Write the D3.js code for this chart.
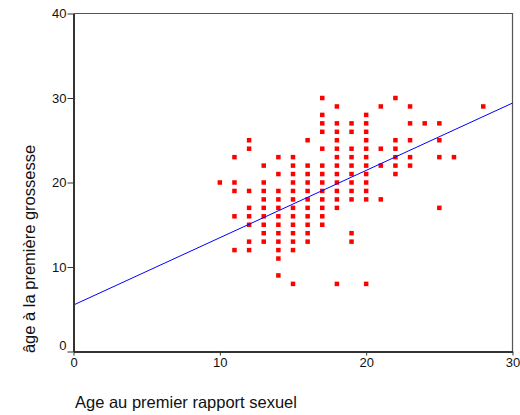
<!DOCTYPE html>
<html>
<head>
<meta charset="utf-8">
<script src="https://cdn.jsdelivr.net/npm/d3@7"></script>
<style>
  body { margin: 0; background: #fff; }
  svg { display: block; font-family: "Liberation Sans", Arial, sans-serif; }
</style>
</head>
<body>
<svg id="chart"></svg>
<script>
// age at first intercourse -> list of ages at first pregnancy observed
const firstSexAges = [10, 11, 12, 13, 14, 15, 16, 17, 18, 19, 20, 21, 22, 23, 24, 25, 26, 28];
const firstPregnancyAges = [
  [20],
  [23, 20, 19, 16, 12],
  [25, 24, 19, 17, 16, 15, 13, 12],
  [22, 20, 19, 18, 17, 16, 15, 14, 13],
  [23, 21, 19, 18, 17, 16, 15, 14, 13, 12, 11, 9],
  [23, 22, 21, 20, 19, 18, 17, 16, 15, 14, 13, 12, 8],
  [25, 22, 21, 20, 19, 18, 17, 16, 15, 14, 13],
  [30, 28, 27, 26, 24, 22, 21, 20, 19, 18, 17, 16, 15],
  [29, 27, 26, 25, 24, 23, 22, 21, 20, 19, 18, 17, 8],
  [27, 26, 24, 23, 22, 21, 20, 19, 18, 14, 13],
  [28, 27, 26, 25, 24, 23, 22, 21, 20, 19, 18, 8],
  [29, 24, 22, 18],
  [30, 25, 24, 23, 22, 21],
  [29, 27, 25, 23, 22],
  [27],
  [27, 25, 23, 17],
  [23],
  [29]
];
// fitted line: value at x = 0 and at x = 30
const fitX = [0, 30];
const fitY = [5.5, 29.4];
const xTicks = [0, 10, 20, 30];
const yTicks = [0, 10, 20, 30, 40];

const width = 520;
const height = 415;
const margin = { top: 13.5, right: 7.5, bottom: 63.5, left: 73.5 };

const svg = d3.select("#chart")
  .attr("width", width)
  .attr("height", height);

const innerWidth = width - margin.left - margin.right;
const innerHeight = height - margin.top - margin.bottom;

const x = d3.scaleLinear().domain([0, 30]).range([0, innerWidth]);
const y = d3.scaleLinear().domain([0, 40]).range([innerHeight, 0]);

const g = svg.append("g")
  .attr("transform", `translate(${margin.left},${margin.top})`);

// top and right frame
g.append("path")
  .attr("d", `M0,0H${innerWidth}V${innerHeight}`)
  .attr("fill", "none")
  .attr("stroke", "#555")
  .attr("stroke-width", 1.2);

const points = firstSexAges.flatMap((a, i) =>
  firstPregnancyAges[i].map(v => ({ x: a, y: v })));

const sz = 4.5;
g.selectAll("rect.pt")
  .data(points)
  .enter()
  .append("rect")
  .attr("class", "pt")
  .attr("x", d => x(d.x) - sz / 2)
  .attr("y", d => y(d.y) - sz / 2)
  .attr("width", sz)
  .attr("height", sz)
  .attr("fill", "#ff0000");

const line = d3.line()
  .x(d => x(d[0]))
  .y(d => y(d[1]));

g.append("path")
  .datum(d3.zip(fitX, fitY))
  .attr("fill", "none")
  .attr("stroke", "#0000ff")
  .attr("stroke-width", 1)
  .attr("d", line);

const xAxisG = g.append("g")
  .attr("transform", `translate(0,${innerHeight})`)
  .call(d3.axisBottom(x).tickValues(xTicks).tickSize(4).tickSizeOuter(0).tickPadding(2));

const yAxisG = g.append("g")
  .call(d3.axisLeft(y).tickValues(yTicks).tickSize(6).tickSizeOuter(0).tickPadding(1));

[xAxisG, yAxisG].forEach(ax => {
  ax.select(".domain").attr("stroke", "#333").attr("stroke-width", 2);
  ax.selectAll(".tick line").attr("stroke", "#333").attr("stroke-width", 1);
  ax.selectAll("text")
    .attr("fill", "#111")
    .style("font-size", "13px")
    .style("font-family", "'Liberation Sans', Arial, sans-serif");
});

// the 0 label on the y axis sits a little above its tick
yAxisG.selectAll(".tick text")
  .filter(d => d === 0)
  .attr("dy", "-0.15em");

svg.append("text")
  .attr("x", 75)
  .attr("y", 408)
  .style("font-size", "16.5px")
  .attr("fill", "#111")
  .text("Age au premier rapport sexuel");

svg.append("text")
  .attr("transform", "rotate(-90)")
  .attr("x", -249)
  .attr("y", 35)
  .attr("text-anchor", "middle")
  .style("font-size", "16.5px")
  .attr("fill", "#111")
  .text("âge à la première grossesse");
</script>
</body>
</html>
